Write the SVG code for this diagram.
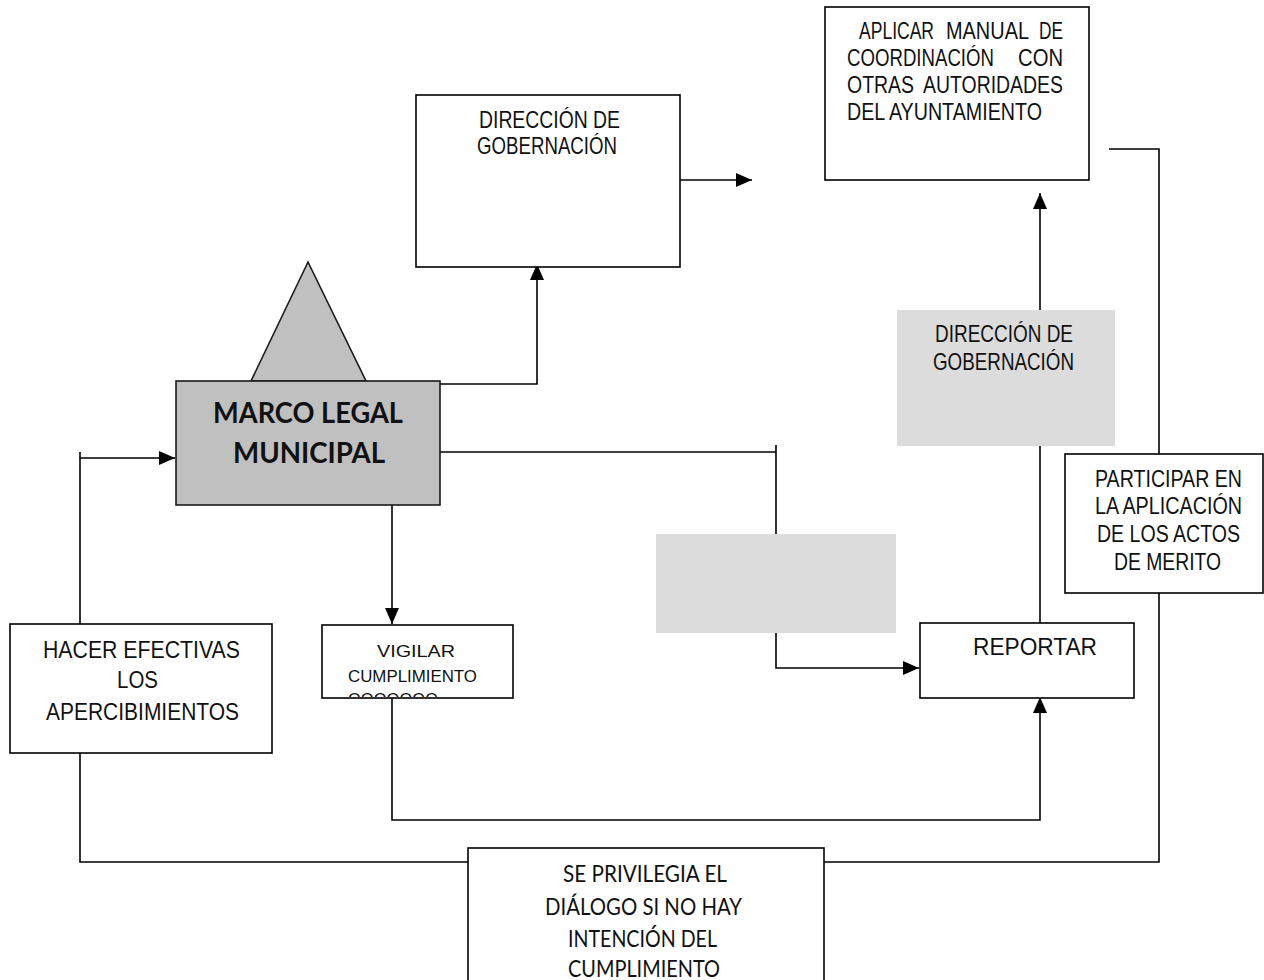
<svg xmlns="http://www.w3.org/2000/svg" width="1264" height="980" viewBox="0 0 1264 980">
<style>
.box{fill:#fff;stroke:#000;stroke-width:1.6}
.gray{fill:#c0c0c0;stroke:#1a1a1a;stroke-width:1.6}
.shade{fill:#dcdcdc;stroke:none}
.ln{fill:none;stroke:#000;stroke-width:1.6}
.t{font-family:"Liberation Sans",Arial,sans-serif;font-size:23px;fill:#111}
.ts{font-family:"Liberation Sans",Arial,sans-serif;font-size:17px;fill:#111}
.c{font-family:Lato,"Open Sans",sans-serif;font-size:24px;fill:#111}
.b{font-family:Lato,"Open Sans",sans-serif;font-size:28px;font-weight:bold;fill:#111}
</style>
<defs>
<marker id="ah" markerUnits="userSpaceOnUse" markerWidth="16" markerHeight="16" viewBox="0 0 16 16" refX="16" refY="8" orient="auto">
<path d="M0,1 L16,8 L0,15 Z" fill="#000"/>
</marker>
<clipPath id="vclip"><rect x="322" y="625" width="191" height="72"/></clipPath>
</defs>
<rect width="1264" height="980" fill="#fff"/>

<g id="connectors">
<polyline class="ln" points="440,384 537,384 537,264" marker-end="url(#ah)"/>
<line class="ln" x1="680" y1="180" x2="752" y2="180" marker-end="url(#ah)"/>
<polyline class="ln" points="440,452 776,452"/>
<polyline class="ln" points="776,445 776,668 919,668" marker-end="url(#ah)"/>
<line class="ln" x1="392" y1="505" x2="392" y2="624" marker-end="url(#ah)"/>
<polyline class="ln" points="392,698 392,820 1040,820 1040,697" marker-end="url(#ah)"/>
<line class="ln" x1="1040" y1="623" x2="1040" y2="310"/>
<line class="ln" x1="1040" y1="310" x2="1040" y2="193" marker-end="url(#ah)"/>
<polyline class="ln" points="1109,149 1159,149 1159,454"/>
<polyline class="ln" points="1159,593 1159,862 824,862"/>
<polyline class="ln" points="80,624 80,458 175,458" marker-end="url(#ah)"/>
<line class="ln" x1="80" y1="452" x2="80" y2="458"/>
<polyline class="ln" points="80,753 80,862 468,862"/>
</g>

<g id="shade-box-1">
<rect class="shade" x="656" y="534" width="240" height="99"/>
</g>

<g id="direccion-top">
<rect class="box" x="416" y="95" width="264" height="172"/>
<text class="t" transform="translate(479,128) scale(0.84,1)" textLength="167.9" lengthAdjust="spacingAndGlyphs">DIRECCIÓN DE</text>
<text class="t" transform="translate(477,154) scale(0.84,1)" textLength="166.7" lengthAdjust="spacingAndGlyphs">GOBERNACIÓN</text>
</g>

<g id="aplicar">
<rect class="box" x="825" y="7" width="264" height="173"/>
<text class="t" transform="translate(859,39) scale(0.84,1)" textLength="89.3" lengthAdjust="spacingAndGlyphs">APLICAR</text>
<text class="t" transform="translate(946,39) scale(0.84,1)" textLength="98.8" lengthAdjust="spacingAndGlyphs">MANUAL</text>
<text class="t" transform="translate(1039,39) scale(0.84,1)" textLength="28.6" lengthAdjust="spacingAndGlyphs">DE</text>
<text class="t" transform="translate(847,66) scale(0.84,1)" textLength="175" lengthAdjust="spacingAndGlyphs">COORDINACIÓN</text>
<text class="t" transform="translate(1018,66) scale(0.84,1)" textLength="53.6" lengthAdjust="spacingAndGlyphs">CON</text>
<text class="t" transform="translate(847,93) scale(0.84,1)" textLength="79.8" lengthAdjust="spacingAndGlyphs">OTRAS</text>
<text class="t" transform="translate(923,93) scale(0.84,1)" textLength="166.7" lengthAdjust="spacingAndGlyphs">AUTORIDADES</text>
<text class="t" transform="translate(847,120) scale(0.84,1)" textLength="232.1" lengthAdjust="spacingAndGlyphs">DEL AYUNTAMIENTO</text>
</g>

<g id="marco-legal">
<polygon class="gray" points="308,262 251,381 366,381"/>
<rect class="gray" x="176" y="381" width="264" height="124"/>
<text class="b" x="213" y="423" textLength="190" lengthAdjust="spacingAndGlyphs">MARCO LEGAL</text>
<text class="b" x="233" y="463" textLength="152" lengthAdjust="spacingAndGlyphs">MUNICIPAL</text>
</g>

<g id="direccion-gray">
<rect class="shade" x="897" y="310" width="218" height="136"/>
<text class="t" transform="translate(935,342) scale(0.84,1)" textLength="164.3" lengthAdjust="spacingAndGlyphs">DIRECCIÓN DE</text>
<text class="t" transform="translate(933,370) scale(0.84,1)" textLength="167.9" lengthAdjust="spacingAndGlyphs">GOBERNACIÓN</text>
</g>

<g id="participar">
<rect class="box" x="1065" y="454" width="198" height="139"/>
<text class="t" transform="translate(1095,487) scale(0.84,1)" textLength="175" lengthAdjust="spacingAndGlyphs">PARTICIPAR EN</text>
<text class="t" transform="translate(1095,514) scale(0.84,1)" textLength="175" lengthAdjust="spacingAndGlyphs">LA APLICACIÓN</text>
<text class="t" transform="translate(1097,542) scale(0.84,1)" textLength="170.2" lengthAdjust="spacingAndGlyphs">DE LOS ACTOS</text>
<text class="t" transform="translate(1114,570) scale(0.84,1)" textLength="127.4" lengthAdjust="spacingAndGlyphs">DE MERITO</text>
</g>

<g id="reportar">
<rect class="box" x="920" y="623" width="214" height="75"/>
<text class="t" transform="translate(973,655) scale(0.84,1)" textLength="147.6" lengthAdjust="spacingAndGlyphs">REPORTAR</text>
</g>

<g id="vigilar">
<rect class="box" x="322" y="625" width="191" height="73"/>
<text class="ts" x="377" y="657" textLength="78" lengthAdjust="spacingAndGlyphs">VIGILAR</text>
<text class="ts" x="348" y="682" textLength="129" lengthAdjust="spacingAndGlyphs">CUMPLIMIENTO</text>
<text class="ts" x="348" y="705" textLength="90" lengthAdjust="spacingAndGlyphs" clip-path="url(#vclip)">OOOOOOO</text>
</g>

<g id="hacer">
<rect class="box" x="10" y="624" width="262" height="129"/>
<text class="t" transform="translate(43,658) scale(0.84,1)" textLength="234.5" lengthAdjust="spacingAndGlyphs">HACER EFECTIVAS</text>
<text class="t" transform="translate(117,688) scale(0.84,1)" textLength="48.8" lengthAdjust="spacingAndGlyphs">LOS</text>
<text class="t" transform="translate(46,720) scale(0.84,1)" textLength="229.8" lengthAdjust="spacingAndGlyphs">APERCIBIMIENTOS</text>
</g>

<g id="privilegia">
<rect class="box" x="468" y="848" width="356" height="140"/>
<text class="c" x="563" y="882" textLength="164" lengthAdjust="spacingAndGlyphs">SE PRIVILEGIA EL</text>
<text class="c" x="545" y="915" textLength="197" lengthAdjust="spacingAndGlyphs">DIÁLOGO SI NO HAY</text>
<text class="c" x="568" y="947" textLength="149" lengthAdjust="spacingAndGlyphs">INTENCIÓN DEL</text>
<text class="c" x="568" y="977" textLength="152" lengthAdjust="spacingAndGlyphs">CUMPLIMIENTO</text>
</g>
</svg>
